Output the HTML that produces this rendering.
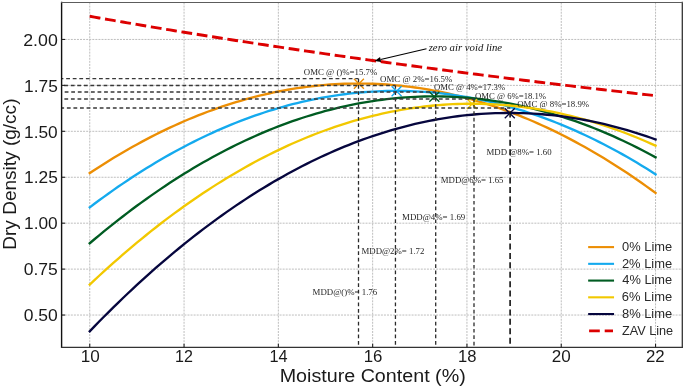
<!DOCTYPE html><html><head><meta charset="utf-8"><style>html,body{margin:0;padding:0;background:#fff;overflow:hidden;}svg{display:block;will-change:transform;}</style></head><body><svg width="685" height="386" viewBox="0 0 685 386">
<rect x="0" y="0" width="685" height="386" fill="#fff"/>
<g stroke="#bebebe" stroke-width="1.0" stroke-dasharray="2 1.07" fill="none"><line x1="89.75" y1="2.5" x2="89.75" y2="347.3"/><line x1="184.05" y1="2.5" x2="184.05" y2="347.3"/><line x1="278.35" y1="2.5" x2="278.35" y2="347.3"/><line x1="372.65" y1="2.5" x2="372.65" y2="347.3"/><line x1="466.95" y1="2.5" x2="466.95" y2="347.3"/><line x1="561.25" y1="2.5" x2="561.25" y2="347.3"/><line x1="655.55" y1="2.5" x2="655.55" y2="347.3"/><line x1="61.6" y1="315.04" x2="682.3" y2="315.04"/><line x1="61.6" y1="269.11" x2="682.3" y2="269.11"/><line x1="61.6" y1="223.18" x2="682.3" y2="223.18"/><line x1="61.6" y1="177.25" x2="682.3" y2="177.25"/><line x1="61.6" y1="131.31" x2="682.3" y2="131.31"/><line x1="61.6" y1="85.38" x2="682.3" y2="85.38"/><line x1="61.6" y1="39.45" x2="682.3" y2="39.45"/></g>
<defs><clipPath id="ax"><rect x="61.6" y="2.5" width="620.6999999999999" height="344.8"/></clipPath></defs>
<g clip-path="url(#ax)">
<polyline points="89.75,173.09 94.46,169.97 99.18,166.91 103.90,163.91 108.61,160.96 113.33,158.07 118.04,155.23 122.75,152.44 127.47,149.72 132.19,147.04 136.90,144.42 141.61,141.86 146.33,139.35 151.05,136.90 155.76,134.50 160.47,132.16 165.19,129.87 169.90,127.64 174.62,125.46 179.34,123.34 184.05,121.27 188.76,119.26 193.48,117.31 198.20,115.40 202.91,113.56 207.62,111.77 212.34,110.03 217.05,108.35 221.77,106.72 226.49,105.15 231.20,103.64 235.91,102.18 240.63,100.77 245.35,99.42 250.06,98.12 254.78,96.88 259.49,95.70 264.20,94.57 268.92,93.49 273.63,92.47 278.35,91.51 283.07,90.60 287.78,89.75 292.50,88.95 297.21,88.20 301.92,87.51 306.64,86.88 311.35,86.30 316.07,85.78 320.78,85.31 325.50,84.90 330.22,84.54 334.93,84.23 339.65,83.99 344.36,83.79 349.07,83.66 353.79,83.57 358.50,83.55 363.22,83.57 367.94,83.66 372.65,83.79 377.37,83.99 382.08,84.23 386.80,84.54 391.51,84.90 396.22,85.31 400.94,85.78 405.65,86.30 410.37,86.88 415.08,87.51 419.80,88.20 424.52,88.95 429.23,89.75 433.95,90.60 438.66,91.51 443.38,92.47 448.09,93.49 452.80,94.57 457.52,95.70 462.23,96.88 466.95,98.12 471.67,99.42 476.38,100.77 481.10,102.18 485.81,103.64 490.52,105.15 495.24,106.72 499.96,108.35 504.67,110.03 509.38,111.77 514.10,113.56 518.82,115.40 523.53,117.31 528.25,119.26 532.96,121.27 537.67,123.34 542.39,125.46 547.11,127.64 551.82,129.87 556.53,132.16 561.25,134.50 565.97,136.90 570.68,139.35 575.39,141.86 580.11,144.42 584.83,147.04 589.54,149.72 594.26,152.44 598.97,155.23 603.68,158.07 608.40,160.96 613.12,163.91 617.83,166.91 622.55,169.97 627.26,173.09 631.98,176.26 636.69,179.48 641.41,182.76 646.12,186.09 650.83,189.48 655.55,192.93" fill="none" stroke="#EC8E04" stroke-width="2.35" stroke-linecap="square"/>
<path d="M353.90,78.85L363.90,88.85M353.90,88.85L363.90,78.85" stroke="#EC8E04" stroke-width="1.35" fill="none"/>
<polyline points="89.75,207.33 94.46,203.78 99.18,200.28 103.90,196.83 108.61,193.44 113.33,190.11 118.04,186.83 122.75,183.60 127.47,180.44 132.19,177.32 136.90,174.26 141.61,171.26 146.33,168.31 151.05,165.42 155.76,162.58 160.47,159.79 165.19,157.06 169.90,154.39 174.62,151.77 179.34,149.21 184.05,146.70 188.76,144.25 193.48,141.85 198.20,139.51 202.91,137.22 207.62,134.99 212.34,132.81 217.05,130.69 221.77,128.62 226.49,126.61 231.20,124.65 235.91,122.75 240.63,120.91 245.35,119.12 250.06,117.38 254.78,115.70 259.49,114.07 264.20,112.50 268.92,110.99 273.63,109.52 278.35,108.12 283.07,106.77 287.78,105.47 292.50,104.23 297.21,103.05 301.92,101.92 306.64,100.84 311.35,99.82 316.07,98.86 320.78,97.95 325.50,97.10 330.22,96.30 334.93,95.55 339.65,94.86 344.36,94.23 349.07,93.65 353.79,93.13 358.50,92.66 363.22,92.24 367.94,91.89 372.65,91.58 377.37,91.34 382.08,91.14 386.80,91.00 391.51,90.92 396.22,90.89 400.94,90.92 405.65,91.00 410.37,91.14 415.08,91.34 419.80,91.58 424.52,91.89 429.23,92.24 433.95,92.66 438.66,93.13 443.38,93.65 448.09,94.23 452.80,94.86 457.52,95.55 462.23,96.30 466.95,97.10 471.67,97.95 476.38,98.86 481.10,99.82 485.81,100.84 490.52,101.92 495.24,103.05 499.96,104.23 504.67,105.47 509.38,106.77 514.10,108.12 518.82,109.52 523.53,110.99 528.25,112.50 532.96,114.07 537.67,115.70 542.39,117.38 547.11,119.12 551.82,120.91 556.53,122.75 561.25,124.65 565.97,126.61 570.68,128.62 575.39,130.69 580.11,132.81 584.83,134.99 589.54,137.22 594.26,139.51 598.97,141.85 603.68,144.25 608.40,146.70 613.12,149.21 617.83,151.77 622.55,154.39 627.26,157.06 631.98,159.79 636.69,162.58 641.41,165.42 646.12,168.31 650.83,171.26 655.55,174.26" fill="none" stroke="#14AAEE" stroke-width="2.35" stroke-linecap="square"/>
<path d="M391.62,86.19L401.62,96.19M391.62,96.19L401.62,86.19" stroke="#14AAEE" stroke-width="1.35" fill="none"/>
<polyline points="89.75,243.27 94.46,239.27 99.18,235.33 103.90,231.45 108.61,227.62 113.33,223.84 118.04,220.12 122.75,216.46 127.47,212.85 132.19,209.29 136.90,205.79 141.61,202.35 146.33,198.96 151.05,195.62 155.76,192.34 160.47,189.12 165.19,185.95 169.90,182.83 174.62,179.77 179.34,176.77 184.05,173.82 188.76,170.93 193.48,168.09 198.20,165.31 202.91,162.58 207.62,159.90 212.34,157.29 217.05,154.72 221.77,152.21 226.49,149.76 231.20,147.36 235.91,145.02 240.63,142.73 245.35,140.50 250.06,138.32 254.78,136.20 259.49,134.14 264.20,132.12 268.92,130.17 273.63,128.27 278.35,126.42 283.07,124.63 287.78,122.89 292.50,121.21 297.21,119.58 301.92,118.01 306.64,116.50 311.35,115.04 316.07,113.63 320.78,112.28 325.50,110.99 330.22,109.75 334.93,108.56 339.65,107.43 344.36,106.36 349.07,105.34 353.79,104.37 358.50,103.46 363.22,102.61 367.94,101.81 372.65,101.06 377.37,100.37 382.08,99.74 386.80,99.16 391.51,98.64 396.22,98.17 400.94,97.76 405.65,97.40 410.37,97.10 415.08,96.85 419.80,96.65 424.52,96.52 429.23,96.43 433.95,96.41 438.66,96.43 443.38,96.52 448.09,96.65 452.80,96.85 457.52,97.10 462.23,97.40 466.95,97.76 471.67,98.17 476.38,98.64 481.10,99.16 485.81,99.74 490.52,100.37 495.24,101.06 499.96,101.81 504.67,102.61 509.38,103.46 514.10,104.37 518.82,105.34 523.53,106.36 528.25,107.43 532.96,108.56 537.67,109.75 542.39,110.99 547.11,112.28 551.82,113.63 556.53,115.04 561.25,116.50 565.97,118.01 570.68,119.58 575.39,121.21 580.11,122.89 584.83,124.63 589.54,126.42 594.26,128.27 598.97,130.17 603.68,132.12 608.40,134.14 613.12,136.20 617.83,138.32 622.55,140.50 627.26,142.73 631.98,145.02 636.69,147.36 641.41,149.76 646.12,152.21 650.83,154.72 655.55,157.29" fill="none" stroke="#005C22" stroke-width="2.35" stroke-linecap="square"/>
<path d="M429.35,91.71L439.35,101.71M429.35,101.71L439.35,91.71" stroke="#005C22" stroke-width="1.35" fill="none"/>
<polyline points="89.75,284.57 94.46,280.14 99.18,275.75 103.90,271.43 108.61,267.16 113.33,262.94 118.04,258.78 122.75,254.67 127.47,250.62 132.19,246.62 136.90,242.68 141.61,238.80 146.33,234.97 151.05,231.19 155.76,227.47 160.47,223.80 165.19,220.19 169.90,216.64 174.62,213.14 179.34,209.69 184.05,206.30 188.76,202.97 193.48,199.69 198.20,196.47 202.91,193.30 207.62,190.18 212.34,187.12 217.05,184.12 221.77,181.17 226.49,178.28 231.20,175.44 235.91,172.65 240.63,169.93 245.35,167.25 250.06,164.63 254.78,162.07 259.49,159.56 264.20,157.11 268.92,154.71 273.63,152.37 278.35,150.08 283.07,147.85 287.78,145.67 292.50,143.55 297.21,141.48 301.92,139.47 306.64,137.52 311.35,135.61 316.07,133.77 320.78,131.98 325.50,130.24 330.22,128.56 334.93,126.93 339.65,125.36 344.36,123.85 349.07,122.39 353.79,120.98 358.50,119.63 363.22,118.33 367.94,117.09 372.65,115.91 377.37,114.78 382.08,113.70 386.80,112.68 391.51,111.72 396.22,110.81 400.94,109.96 405.65,109.16 410.37,108.41 415.08,107.72 419.80,107.09 424.52,106.51 429.23,105.99 433.95,105.52 438.66,105.11 443.38,104.75 448.09,104.44 452.80,104.20 457.52,104.00 462.23,103.87 466.95,103.78 471.67,103.76 476.38,103.78 481.10,103.87 485.81,104.00 490.52,104.20 495.24,104.44 499.96,104.75 504.67,105.11 509.38,105.52 514.10,105.99 518.82,106.51 523.53,107.09 528.25,107.72 532.96,108.41 537.67,109.16 542.39,109.96 547.11,110.81 551.82,111.72 556.53,112.68 561.25,113.70 565.97,114.78 570.68,115.91 575.39,117.09 580.11,118.33 584.83,119.63 589.54,120.98 594.26,122.39 598.97,123.85 603.68,125.36 608.40,126.93 613.12,128.56 617.83,130.24 622.55,131.98 627.26,133.77 631.98,135.61 636.69,137.52 641.41,139.47 646.12,141.48 650.83,143.55 655.55,145.67" fill="none" stroke="#F2C800" stroke-width="2.35" stroke-linecap="square"/>
<path d="M467.07,99.06L477.07,109.06M467.07,109.06L477.07,99.06" stroke="#F2C800" stroke-width="1.35" fill="none"/>
<polyline points="89.75,331.24 94.46,326.36 99.18,321.54 103.90,316.77 108.61,312.06 113.33,307.40 118.04,302.80 122.75,298.25 127.47,293.76 132.19,289.32 136.90,284.94 141.61,280.61 146.33,276.34 151.05,272.13 155.76,267.96 160.47,263.86 165.19,259.81 169.90,255.81 174.62,251.87 179.34,247.98 184.05,244.15 188.76,240.38 193.48,236.66 198.20,232.99 202.91,229.38 207.62,225.83 212.34,222.33 217.05,218.88 221.77,215.49 226.49,212.16 231.20,208.88 235.91,205.65 240.63,202.48 245.35,199.37 250.06,196.31 254.78,193.31 259.49,190.36 264.20,187.46 268.92,184.62 273.63,181.84 278.35,179.11 283.07,176.44 287.78,173.82 292.50,171.26 297.21,168.75 301.92,166.30 306.64,163.90 311.35,161.56 316.07,159.27 320.78,157.04 325.50,154.86 330.22,152.74 334.93,150.67 339.65,148.66 344.36,146.70 349.07,144.80 353.79,142.95 358.50,141.16 363.22,139.43 367.94,137.75 372.65,136.12 377.37,134.55 382.08,133.03 386.80,131.57 391.51,130.17 396.22,128.82 400.94,127.52 405.65,126.28 410.37,125.10 415.08,123.97 419.80,122.89 424.52,121.87 429.23,120.91 433.95,120.00 438.66,119.14 443.38,118.34 448.09,117.60 452.80,116.91 457.52,116.28 462.23,115.70 466.95,115.17 471.67,114.71 476.38,114.29 481.10,113.93 485.81,113.63 490.52,113.38 495.24,113.19 499.96,113.05 504.67,112.97 509.38,112.94 514.10,112.97 518.82,113.05 523.53,113.19 528.25,113.38 532.96,113.63 537.67,113.93 542.39,114.29 547.11,114.71 551.82,115.17 556.53,115.70 561.25,116.28 565.97,116.91 570.68,117.60 575.39,118.34 580.11,119.14 584.83,120.00 589.54,120.91 594.26,121.87 598.97,122.89 603.68,123.97 608.40,125.10 613.12,126.28 617.83,127.52 622.55,128.82 627.26,130.17 631.98,131.57 636.69,133.03 641.41,134.55 646.12,136.12 650.83,137.75 655.55,139.43" fill="none" stroke="#06063E" stroke-width="2.35" stroke-linecap="square"/>
<path d="M504.78,108.24L514.78,118.24M504.78,118.24L514.78,108.24" stroke="#06063E" stroke-width="1.35" fill="none"/>
<text transform="translate(303.77,75.10) scale(1.0272,1)" style="font-family:'Liberation Serif';font-size:8.6px;" fill="#1e1e1e">OMC @ ()%=15.7%</text>
<text transform="translate(380.07,81.70) scale(1.0290,1)" style="font-family:'Liberation Serif';font-size:8.6px;" fill="#1e1e1e">OMC @ 2%=16.5%</text>
<text transform="translate(434.07,89.70) scale(1.0118,1)" style="font-family:'Liberation Serif';font-size:8.6px;" fill="#1e1e1e">OMC @ 4%=17.3%</text>
<text transform="translate(474.97,98.70) scale(1.0133,1)" style="font-family:'Liberation Serif';font-size:8.6px;" fill="#1e1e1e">OMC @ 6%=18.1%</text>
<text transform="translate(517.27,107.40) scale(1.0218,1)" style="font-family:'Liberation Serif';font-size:8.6px;" fill="#1e1e1e">OMC @ 8%=18.9%</text>
<text transform="translate(312.58,294.50) scale(1.0657,1)" style="font-family:'Liberation Serif';font-size:8.3px;" fill="#1e1e1e">MDD@()%= 1.76</text>
<text transform="translate(361.48,253.80) scale(1.0614,1)" style="font-family:'Liberation Serif';font-size:8.3px;" fill="#1e1e1e">MDD@2%= 1.72</text>
<text transform="translate(402.08,219.80) scale(1.0660,1)" style="font-family:'Liberation Serif';font-size:8.3px;" fill="#1e1e1e">MDD@4%= 1.69</text>
<text transform="translate(440.78,182.80) scale(1.0580,1)" style="font-family:'Liberation Serif';font-size:8.3px;" fill="#1e1e1e">MDD@6%= 1.65</text>
<text transform="translate(486.48,154.80) scale(1.0598,1)" style="font-family:'Liberation Serif';font-size:8.3px;" fill="#1e1e1e">MDD @8%= 1.60</text>
<line x1="358.5" y1="351.05" x2="358.5" y2="78.65" stroke="#2a2a2a" stroke-width="1.3" stroke-dasharray="3.7 2.7"/>
<line x1="59.6" y1="78.65" x2="358.5" y2="78.65" stroke="#383838" stroke-width="1.35" stroke-dasharray="3.8 2.77"/>
<line x1="395.45" y1="351.05" x2="395.45" y2="85.5" stroke="#2a2a2a" stroke-width="1.3" stroke-dasharray="3.7 2.7"/>
<line x1="57.6" y1="85.5" x2="395.45" y2="85.5" stroke="#383838" stroke-width="1.35" stroke-dasharray="3.8 2.77"/>
<line x1="435.7" y1="351.1" x2="435.7" y2="92.0" stroke="#2a2a2a" stroke-width="1.3" stroke-dasharray="3.7 2.7"/>
<line x1="58.1" y1="92.0" x2="435.7" y2="92.0" stroke="#383838" stroke-width="1.35" stroke-dasharray="3.8 2.77"/>
<line x1="474.0" y1="351.8" x2="474.0" y2="99.0" stroke="#2a2a2a" stroke-width="1.3" stroke-dasharray="3.7 2.7"/>
<line x1="57.8" y1="99.0" x2="474.0" y2="99.0" stroke="#383838" stroke-width="1.35" stroke-dasharray="3.8 2.77"/>
<line x1="510.1" y1="353.1" x2="510.1" y2="108.0" stroke="#111" stroke-width="1.6" stroke-dasharray="6 3.42"/>
<line x1="60.3" y1="108.0" x2="510.1" y2="108.0" stroke="#383838" stroke-width="1.35" stroke-dasharray="3.8 2.77"/>
<polyline points="89.75,16.30 94.46,17.13 99.18,17.96 103.90,18.78 108.61,19.60 113.33,20.41 118.04,21.22 122.75,22.03 127.47,22.84 132.19,23.64 136.90,24.43 141.61,25.23 146.33,26.02 151.05,26.81 155.76,27.59 160.47,28.37 165.19,29.15 169.90,29.93 174.62,30.70 179.34,31.47 184.05,32.23 188.76,33.00 193.48,33.76 198.20,34.51 202.91,35.27 207.62,36.02 212.34,36.76 217.05,37.51 221.77,38.25 226.49,38.99 231.20,39.72 235.91,40.45 240.63,41.18 245.35,41.91 250.06,42.63 254.78,43.35 259.49,44.07 264.20,44.79 268.92,45.50 273.63,46.21 278.35,46.92 283.07,47.62 287.78,48.32 292.50,49.02 297.21,49.72 301.92,50.41 306.64,51.10 311.35,51.79 316.07,52.47 320.78,53.15 325.50,53.83 330.22,54.51 334.93,55.19 339.65,55.86 344.36,56.53 349.07,57.19 353.79,57.86 358.50,58.52 363.22,59.18 367.94,59.84 372.65,60.49 377.37,61.14 382.08,61.79 386.80,62.44 391.51,63.08 396.22,63.73 400.94,64.37 405.65,65.00 410.37,65.64 415.08,66.27 419.80,66.90 424.52,67.53 429.23,68.16 433.95,68.78 438.66,69.40 443.38,70.02 448.09,70.64 452.80,71.25 457.52,71.86 462.23,72.47 466.95,73.08 471.67,73.69 476.38,74.29 481.10,74.89 485.81,75.49 490.52,76.09 495.24,76.68 499.96,77.27 504.67,77.86 509.38,78.45 514.10,79.04 518.82,79.62 523.53,80.20 528.25,80.78 532.96,81.36 537.67,81.94 542.39,82.51 547.11,83.08 551.82,83.65 556.53,84.22 561.25,84.79 565.97,85.35 570.68,85.91 575.39,86.47 580.11,87.03 584.83,87.59 589.54,88.14 594.26,88.69 598.97,89.24 603.68,89.79 608.40,90.34 613.12,90.88 617.83,91.42 622.55,91.96 627.26,92.50 631.98,93.04 636.69,93.58 641.41,94.11 646.12,94.64 650.83,95.17 655.55,95.70" fill="none" stroke="#DC0000" stroke-width="2.9" stroke-dasharray="10.8 4.7"/>
</g>
<line x1="426.5" y1="48.8" x2="380.64" y2="59.58" stroke="#000" stroke-width="1.1"/>
<path d="M374.6,61.0L381.23,62.11L380.04,57.05Z" fill="#000"/>
<line x1="61.6" y1="1.8" x2="61.6" y2="348" stroke="#111" stroke-width="1.4"/>
<line x1="682.3" y1="1.8" x2="682.3" y2="348" stroke="#333" stroke-width="1.3"/>
<line x1="61" y1="2.5" x2="683" y2="2.5" stroke="#5c5c5c" stroke-width="1.2"/>
<line x1="61" y1="347.3" x2="683" y2="347.3" stroke="#333" stroke-width="1.3"/>
<g stroke="#222" stroke-width="1.1"><line x1="89.75" y1="347.3" x2="89.75" y2="343.8"/><line x1="184.05" y1="347.3" x2="184.05" y2="343.8"/><line x1="278.35" y1="347.3" x2="278.35" y2="343.8"/><line x1="372.65" y1="347.3" x2="372.65" y2="343.8"/><line x1="466.95" y1="347.3" x2="466.95" y2="343.8"/><line x1="561.25" y1="347.3" x2="561.25" y2="343.8"/><line x1="655.55" y1="347.3" x2="655.55" y2="343.8"/><line x1="61.6" y1="315.04" x2="65.1" y2="315.04"/><line x1="61.6" y1="269.11" x2="65.1" y2="269.11"/><line x1="61.6" y1="223.18" x2="65.1" y2="223.18"/><line x1="61.6" y1="177.25" x2="65.1" y2="177.25"/><line x1="61.6" y1="131.31" x2="65.1" y2="131.31"/><line x1="61.6" y1="85.38" x2="65.1" y2="85.38"/><line x1="61.6" y1="39.45" x2="65.1" y2="39.45"/></g>
<line x1="589.2" y1="247.10" x2="613" y2="247.10" stroke="#EC8E04" stroke-width="2.1" stroke-linecap="square"/>
<line x1="589.2" y1="263.84" x2="613" y2="263.84" stroke="#14AAEE" stroke-width="2.1" stroke-linecap="square"/>
<line x1="589.2" y1="280.58" x2="613" y2="280.58" stroke="#005C22" stroke-width="2.1" stroke-linecap="square"/>
<line x1="589.2" y1="297.32" x2="613" y2="297.32" stroke="#F2C800" stroke-width="2.1" stroke-linecap="square"/>
<line x1="589.2" y1="314.06" x2="613" y2="314.06" stroke="#06063E" stroke-width="2.1" stroke-linecap="square"/>
<line x1="589.1" y1="330.80" x2="613" y2="330.80" stroke="#DC0000" stroke-width="2.8" stroke-dasharray="10.7 4.9"/>
<text transform="translate(80.65,361.80) scale(1.0516,1)" style="font-family:'Liberation Sans';font-size:16.3px;" fill="#1a1a1a">10</text>
<text transform="translate(175.01,361.80) scale(0.9871,1)" style="font-family:'Liberation Sans';font-size:16.3px;" fill="#1a1a1a">12</text>
<text transform="translate(269.50,361.80) scale(1.0020,1)" style="font-family:'Liberation Sans';font-size:16.3px;" fill="#1a1a1a">14</text>
<text transform="translate(363.77,361.80) scale(1.0328,1)" style="font-family:'Liberation Sans';font-size:16.3px;" fill="#1a1a1a">16</text>
<text transform="translate(458.08,361.80) scale(1.0184,1)" style="font-family:'Liberation Sans';font-size:16.3px;" fill="#1a1a1a">18</text>
<text transform="translate(551.73,361.80) scale(1.0470,1)" style="font-family:'Liberation Sans';font-size:16.3px;" fill="#1a1a1a">20</text>
<text transform="translate(645.94,361.80) scale(1.0341,1)" style="font-family:'Liberation Sans';font-size:16.3px;" fill="#1a1a1a">22</text>
<text transform="translate(23.70,321.00) scale(1.0737,1)" style="font-family:'Liberation Sans';font-size:16.3px;" fill="#1a1a1a">0.50</text>
<text transform="translate(23.70,275.00) scale(1.0756,1)" style="font-family:'Liberation Sans';font-size:16.3px;" fill="#1a1a1a">0.75</text>
<text transform="translate(24.09,229.00) scale(1.0611,1)" style="font-family:'Liberation Sans';font-size:16.3px;" fill="#1a1a1a">1.00</text>
<text transform="translate(24.09,183.00) scale(1.0630,1)" style="font-family:'Liberation Sans';font-size:16.3px;" fill="#1a1a1a">1.25</text>
<text transform="translate(24.09,138.00) scale(1.0611,1)" style="font-family:'Liberation Sans';font-size:16.3px;" fill="#1a1a1a">1.50</text>
<text transform="translate(24.09,92.00) scale(1.0630,1)" style="font-family:'Liberation Sans';font-size:16.3px;" fill="#1a1a1a">1.75</text>
<text transform="translate(23.21,46.00) scale(1.0894,1)" style="font-family:'Liberation Sans';font-size:16.3px;" fill="#1a1a1a">2.00</text>
<text transform="translate(279.65,382.00) scale(1.0947,1)" style="font-family:'Liberation Sans';font-size:18px;" fill="#1a1a1a">Moisture Content (%)</text>
<text transform="translate(622.09,251.00) scale(1.0559,1)" style="font-family:'Liberation Sans';font-size:12.2px;" fill="#2a2a2a">0% Lime</text>
<text transform="translate(621.88,267.70) scale(1.0604,1)" style="font-family:'Liberation Sans';font-size:12.2px;" fill="#2a2a2a">2% Lime</text>
<text transform="translate(622.28,284.40) scale(1.0519,1)" style="font-family:'Liberation Sans';font-size:12.2px;" fill="#2a2a2a">4% Lime</text>
<text transform="translate(621.79,301.10) scale(1.0623,1)" style="font-family:'Liberation Sans';font-size:12.2px;" fill="#2a2a2a">6% Lime</text>
<text transform="translate(621.97,317.80) scale(1.0583,1)" style="font-family:'Liberation Sans';font-size:12.2px;" fill="#2a2a2a">8% Lime</text>
<text transform="translate(621.90,334.50) scale(1.0418,1)" style="font-family:'Liberation Sans';font-size:12.2px;" fill="#2a2a2a">ZAV Line</text>
<text transform="translate(428.67,50.50) scale(1.0467,1)" style="font-family:'Liberation Serif';font-size:10.3px;font-style:italic;" fill="#111">zero air void line</text>
<text transform="translate(15.7,249.76) rotate(-90) scale(1.0585,1)" style="font-family:'Liberation Sans';font-size:18px" fill="#1a1a1a">Dry Density (g/cc)</text>
</svg></body></html>
